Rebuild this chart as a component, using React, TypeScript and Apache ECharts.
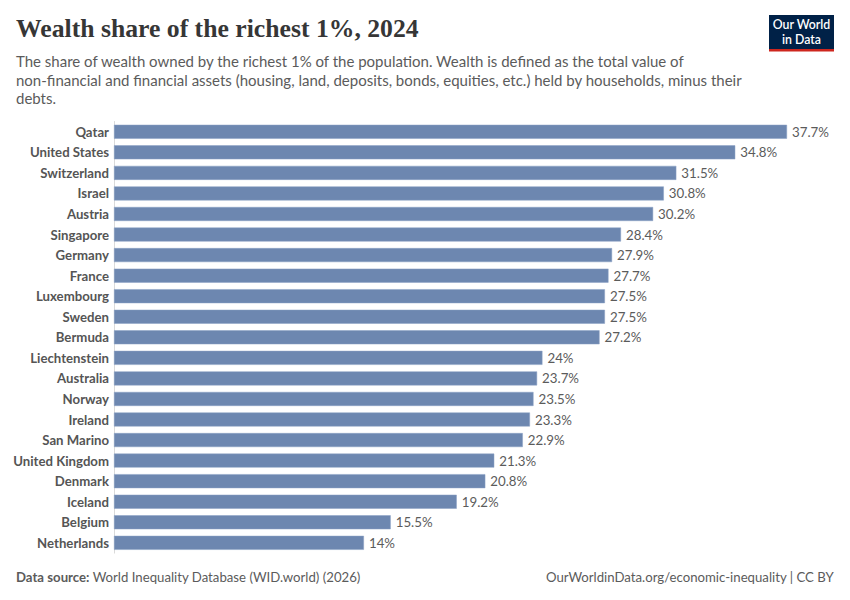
import React, { useEffect, useRef } from "react";
import * as echarts from "echarts";

const countries = [
  "Qatar", "United States", "Switzerland", "Israel", "Austria", "Singapore", "Germany",
  "France", "Luxembourg", "Sweden", "Bermuda", "Liechtenstein", "Australia", "Norway",
  "Ireland", "San Marino", "United Kingdom", "Denmark", "Iceland", "Belgium", "Netherlands",
];
const shares = [
  37.7, 34.8, 31.5, 30.8, 30.2, 28.4, 27.9, 27.7, 27.5, 27.5, 27.2, 24, 23.7, 23.5, 23.3,
  22.9, 21.3, 20.8, 19.2, 15.5, 14,
];

const titleText = "Wealth share of the richest 1%, 2024";
const subtitleLines = [
  "The share of wealth owned by the richest 1% of the population. Wealth is defined as the total value of",
  "non-financial and financial assets (housing, land, deposits, bonds, equities, etc.) held by households, minus their",
  "debts.",
];
const sourceLabel = "Data source:";
const sourceText = " World Inequality Database (WID.world) (2026)";
const urlText = "OurWorldinData.org/economic-inequality | CC BY";

export default function App() {
  const ref = useRef<HTMLDivElement>(null);
  useEffect(() => {
    if (!ref.current) return;
    const chart = echarts.init(ref.current, undefined, { renderer: "svg" });
    const font = "Lato, 'Noto Sans', sans-serif";
    chart.setOption({
      animation: false,
      backgroundColor: "#ffffff",
      grid: { left: 114, top: 121.5, width: 673, height: 431.6, containLabel: false },
      xAxis: {
        type: "value",
        min: 0,
        max: "dataMax",
        show: false,
      },
      yAxis: {
        type: "category",
        inverse: true,
        data: countries,
        axisLine: { show: true, lineStyle: { color: "#dadada", width: 1 } },
        axisTick: { show: false },
        axisLabel: {
          color: "#555555",
          fontFamily: font,
          fontSize: 13.2,
          fontWeight: 700,
          margin: 5,
        },
      },
      series: [
        {
          type: "bar",
          data: shares,
          barWidth: 14,
          itemStyle: { color: "#6D87B0", borderColor: "#8aa0c4", borderWidth: 0.5 },
          label: {
            show: true,
            position: "right",
            distance: 5,
            color: "#5b5b5b",
            fontFamily: font,
            fontSize: 13.3,
            formatter: (p: any) => `${p.value}%`,
          },
        },
      ],
      graphic: [
        {
          type: "text",
          left: 16,
          top: 15,
          style: {
            text: titleText,
            fontFamily: "'Liberation Serif', 'DejaVu Serif', serif",
            fontSize: 25.7,
            fontWeight: 700,
            fill: "#363636",
          },
        },
        {
          type: "text",
          left: 16,
          top: 52,
          style: {
            text: subtitleLines.join("\n"),
            fontFamily: font,
            fontSize: 15,
            lineHeight: 18.5,
            fill: "#5b5b5b",
          },
        },
        {
          type: "group",
          left: 769,
          top: 15,
          children: [
            { type: "rect", shape: { x: 0, y: 0, width: 65, height: 34 }, style: { fill: "#002147" } },
            { type: "rect", shape: { x: 0, y: 34, width: 65, height: 2.5 }, style: { fill: "#ce261e" } },
            {
              type: "text",
              x: 32.5,
              y: 3,
              style: {
                text: "Our World",
                align: "center",
                fontFamily: font,
                fontSize: 12.3,
                fontWeight: 600,
                fill: "#ffffff",
              },
            },
            {
              type: "text",
              x: 32.5,
              y: 18,
              style: {
                text: "in Data",
                align: "center",
                fontFamily: font,
                fontSize: 12.3,
                fontWeight: 600,
                fill: "#ffffff",
              },
            },
          ],
        },
        {
          type: "text",
          left: 16,
          top: 570,
          style: {
            text: `{b|${sourceLabel}}{n|${sourceText}}`,
            rich: {
              b: { fontFamily: font, fontSize: 13.2, fontWeight: 700, fill: "#5b5b5b" },
              n: { fontFamily: font, fontSize: 13.2, fill: "#5b5b5b" },
            },
          },
        },
        {
          type: "text",
          right: 16,
          top: 570,
          style: {
            text: urlText,
            fontFamily: font,
            fontSize: 13.2,
            fill: "#5b5b5b",
          },
        },
      ],
    });
    return () => chart.dispose();
  }, []);
  return (
    <div
      ref={ref}
      style={{ position: "fixed", left: 0, top: 0, width: 850, height: 600 }}
    />
  );
}
